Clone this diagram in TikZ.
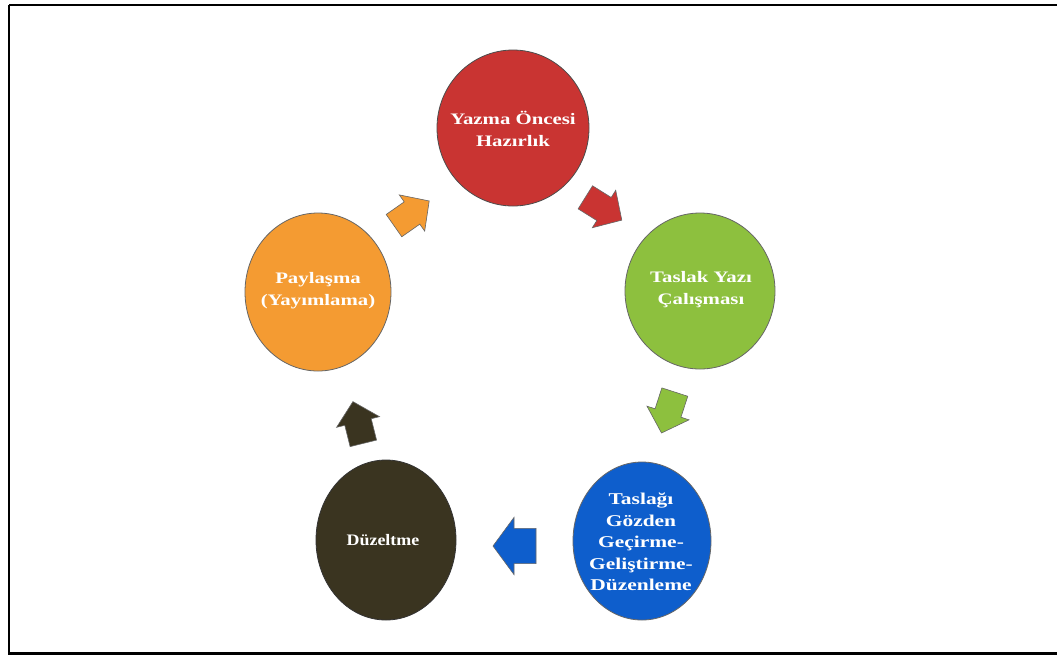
\documentclass[tikz,border=0pt]{standalone}
\usepackage{fontspec}
\setmainfont{Liberation Serif}
\newfontfamily\lblwide[FakeStretch=1.3]{Liberation Serif}
\newfontfamily\lblmid[FakeStretch=1.12]{Liberation Serif}
\begin{document}
\begin{tikzpicture}[x=1pt,y=-1pt,
  lbl/.style={text=white, font=\lblwide\bfseries\fontsize{16}{22}\selectfont, align=center},
  blockarrow/.style={draw=black!60, line width=0.6pt}]
\useasboundingbox (0,0) rectangle (1057,657);
\fill[white] (0,0) rectangle (1057,657);
\draw[line width=2.6pt] (9,5) -- (1070,5) (9,5) -- (9,653.5) -- (1070,653.5);

\definecolor{cred}{RGB}{201,52,50}
\definecolor{cgreen}{RGB}{141,192,62}
\definecolor{cblue}{RGB}{14,94,204}
\definecolor{cdark}{RGB}{58,52,32}
\definecolor{corange}{RGB}{244,155,50}

% ellipses
\filldraw[fill=cred, draw=black!70, line width=0.8pt] (513,128) ellipse [x radius=76, y radius=78];
\filldraw[fill=cgreen, draw=black!60, line width=0.8pt] (700,291) ellipse [x radius=75, y radius=78];
\filldraw[fill=cblue, draw=black!60, line width=0.8pt] (642,541) ellipse [x radius=69, y radius=79];
\filldraw[fill=cdark, draw=black!80, line width=0.8pt] (386,540) ellipse [x radius=70, y radius=80];
\filldraw[fill=corange, draw=black!60, line width=0.8pt] (318,292) ellipse [x radius=73, y radius=79];

\node[lbl] (n1) at (513,129) {Yazma Öncesi\\Hazırlık};
\node[lbl] (n2) at (701,290) {Taslak Yazı\\Çalışması};
\node[lbl, font=\lblwide\bfseries\fontsize{16.5}{21.5}\selectfont] (n3) at (641,542) {Taslağı\\Gözden\\Geçirme-\\Geliştirme-\\Düzenleme};
\node[lbl, font=\lblmid\bfseries\fontsize{16}{22}\selectfont] (n4) at (383,540) {Düzeltme};
\node[lbl] (n5) at (318,291) {Paylaşma\\(Yayımlama)};

% block arrows
\newcommand{\blockarr}[5]{%
  \filldraw[blockarrow, fill=#5, shift={(#1)}, rotate=#2, xscale=#3, yscale=#4]
    (-22,-16) -- (0,-16) -- (0,-26) -- (21,0) -- (0,26) -- (0,16) -- (-22,16) -- cycle;}
\blockarr{412,213}{35}{1}{0.85}{corange}
\blockarr{604,209}{-32}{1}{0.85}{cred}
\blockarr{668,413}{-108}{1}{0.85}{cgreen}
\blockarr{514,546}{180}{1}{1.1}{cblue}
\blockarr{358,422}{104}{1}{0.85}{cdark}
\end{tikzpicture}
\end{document}
